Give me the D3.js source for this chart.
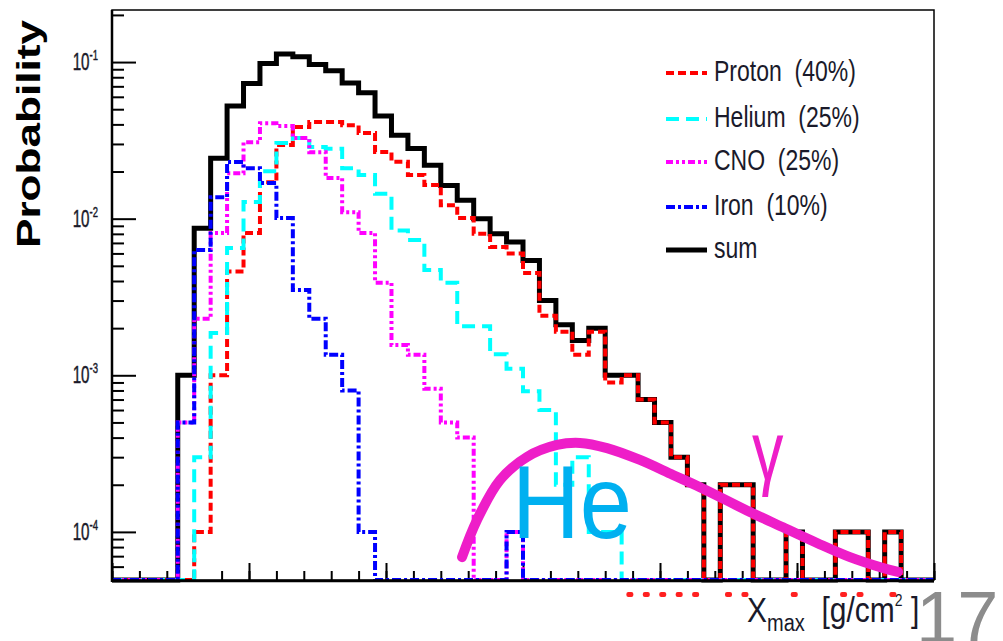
<!DOCTYPE html>
<html>
<head>
<meta charset="utf-8">
<script src="https://cdn.jsdelivr.net/npm/d3@7"></script>
<style>
  body { margin: 0; background: #fff; }
  svg { display: block; }
  text { font-family: "Liberation Sans", Arial, sans-serif; white-space: pre; }
</style>
</head>
<body>
<svg id="chart" width="1003" height="641"></svg>
<script>
// Xmax histogram binning (g/cm^2)
const xRange = [400, 1000];
const binWidth = 12;

// Probability per bin for each primary species (50 bins)
const proton = [0, 0, 0, 0, 0, 1e-4, 1.0e-3, 4.6e-3, 8.1e-3, 1.71e-2,
  2.95e-2, 3.85e-2, 4.14e-2, 4.14e-2, 3.95e-2, 3.52e-2, 2.67e-2, 2.31e-2, 1.9e-2, 1.64e-2,
  1.22e-2, 1.01e-2, 8.0e-3, 6.6e-3, 6.0e-3, 4.5e-3, 2.4e-3, 1.9e-3, 1.35e-3, 1.9e-3,
  9e-4, 1.0e-3, 7e-4, 5e-4, 3e-4, 2e-4, 0, 2e-4, 2e-4, 0,
  0, 1e-4, 0, 0, 1e-4, 1e-4, 0, 1e-4, 0, 0];
const helium = [0, 0, 0, 0, 0, 3e-4, 1.86e-3, 6.5e-3, 1.28e-2, 2.01e-2,
  3.04e-2, 3.27e-2, 2.87e-2, 2.8e-2, 2.1e-2, 1.9e-2, 1.44e-2, 8.4e-3, 7.3e-3, 4.7e-3,
  3.9e-3, 2.06e-3, 2.06e-3, 1.36e-3, 1.1e-3, 7.9e-4, 6e-4, 2e-4, 3e-4, 1e-4,
  1e-4, 0, 0, 0, 0, 0, 0, 0, 0, 0,
  0, 0, 0, 0, 0, 0, 0, 0, 0, 0];
const cno = [0, 0, 0, 0, 5e-4, 2.3e-3, 8.1e-3, 1.95e-2, 3.08e-2, 4.07e-2,
  3.9e-2, 3.27e-2, 2.66e-2, 1.82e-2, 1.1e-2, 8.1e-3, 3.9e-3, 1.56e-3, 1.35e-3, 8.2e-4,
  5e-4, 4e-4, 0, 0, 1e-4, 0, 0, 0, 0, 0,
  0, 0, 0, 0, 0, 0, 0, 0, 0, 0,
  0, 0, 0, 0, 0, 0, 0, 0, 0, 0];
const iron = [0, 0, 0, 0, 5e-4, 6.3e-3, 1.37e-2, 2.3e-2, 2.1e-2, 1.69e-2,
  1.01e-2, 3.5e-3, 2.3e-3, 1.35e-3, 8e-4, 1e-4, 0, 0, 0, 0,
  0, 0, 0, 0, 1e-4, 0, 0, 0, 0, 0,
  0, 0, 0, 0, 0, 0, 0, 0, 0, 0,
  0, 0, 0, 0, 0, 0, 0, 0, 0, 0];
const sum = [0, 0, 0, 0, 1.0e-3, 8.7e-3, 2.43e-2, 5.25e-2, 7.3e-2, 9.8e-2,
  0.1125, 0.108, 9.66e-2, 8.8e-2, 7.34e-2, 6.37e-2, 4.52e-2, 3.41e-2, 2.81e-2, 2.19e-2,
  1.63e-2, 1.31e-2, 1.0e-2, 8.0e-3, 7.1e-3, 5.4e-3, 3.0e-3, 2.1e-3, 1.67e-3, 2.0e-3,
  1.0e-3, 1.0e-3, 7e-4, 5e-4, 3e-4, 2e-4, 0, 2e-4, 2e-4, 0,
  0, 1e-4, 0, 0, 1e-4, 1e-4, 0, 1e-4, 0, 0];

// Legend entries
const legendLabels = ["Proton  (40%)", "Helium  (25%)", "CNO  (25%)", "Iron  (10%)", "sum"];

// Y tick labels (decades)
const yMajorTicks = [1e-4, 1e-3, 1e-2, 1e-1];
const yTickExponents = ["-4", "-3", "-2", "-1"];

// Bins whose proton entries carry a marker under the axis
const markerBins = [31, 32, 33, 34, 35, 37, 38, 41, 44, 45, 47];

// Hand-drawn photon (gamma) expectation curve: [Xmax, probability]
const gammaCurve = [[655.5, 6.9e-5], [666.4, 1.19e-4], [683.2, 2.14e-4], [702.9, 3.01e-4],
  [724.8, 3.59e-4], [741.6, 3.70e-4], [761.3, 3.43e-4], [785.4, 2.88e-4], [809.5, 2.31e-4],
  [829.2, 1.93e-4], [865.7, 1.34e-4], [889.8, 1.07e-4], [914.6, 8.5e-5], [938.7, 6.9e-5],
  [962.8, 5.88e-5], [973.7, 5.55e-5]];

const svg = d3.select("#chart");
const frameL = 112, frameR = 934, frameT = 10, frameB = 580;
const yMin = 4.93e-5, yMax = 0.215;

const x = d3.scaleLinear().domain(xRange).range([frameL, frameR]);
const y = d3.scaleLog().domain([yMin, yMax]).range([frameB, frameT]);

const nBins = sum.length;
const edge = i => xRange[0] + i * binWidth;
const yv = v => y(Math.max(v, yMin));

function histPath(vals) {
  let p = `M${x(edge(0))},${yv(vals[0])}`;
  for (let i = 0; i < nBins; i++) {
    p += `H${x(edge(i + 1))}`;
    if (i < nBins - 1) p += `V${yv(vals[i + 1])}`;
  }
  return p;
}

const series = [
  { vals: sum,    color: "#000000", width: 5, dash: null },
  { vals: proton, color: "#ff0000", width: 4, dash: "8 4" },
  { vals: helium, color: "#00ffff", width: 4, dash: "13 7" },
  { vals: cno,    color: "#ff00ff", width: 4, dash: "7 3 3 3 3 3" },
  { vals: iron,   color: "#0000ff", width: 4, dash: "9 3 3 3" }
];

// Axis ticks (drawn inside the frame, no labels on x)
const gx = svg.append("g").attr("transform", `translate(0,${frameB})`);
gx.call(d3.axisBottom(x).tickValues(d3.range(400, 1001, 20)).tickSize(-9).tickFormat(""));
gx.call(g => g.select(".domain").remove());
const gx2 = svg.append("g").attr("transform", `translate(0,${frameB})`);
gx2.call(d3.axisBottom(x).tickValues(d3.range(400, 1001, 100)).tickSize(-17).tickFormat(""));
gx2.call(g => g.select(".domain").remove());

const minorY = [];
[1e-5, 1e-4, 1e-3, 1e-2, 1e-1].forEach(d => {
  for (let k = 2; k <= 9; k++) { const v = d * k; if (v >= yMin && v <= yMax) minorY.push(v); }
});
const gy = svg.append("g").attr("transform", `translate(${frameL},0)`);
gy.call(d3.axisLeft(y).tickValues(minorY).tickSize(-12).tickFormat(""));
gy.call(g => g.select(".domain").remove());
const gy2 = svg.append("g").attr("transform", `translate(${frameL},0)`);
gy2.call(d3.axisLeft(y).tickValues(yMajorTicks).tickSize(-24).tickFormat(""));
gy2.call(g => g.select(".domain").remove());
svg.selectAll(".tick line").attr("stroke", "#000").attr("stroke-width", 2);

// Histograms
svg.append("g").selectAll("path").data(series).join("path")
  .attr("d", d => histPath(d.vals))
  .attr("fill", "none")
  .attr("stroke", d => d.color)
  .attr("stroke-width", d => d.width)
  .attr("stroke-dasharray", d => d.dash);

// Frame
svg.append("rect").attr("x", frameL).attr("y", frameT)
  .attr("width", frameR - frameL).attr("height", frameB - frameT)
  .attr("fill", "none").attr("stroke", "#000").attr("stroke-width", 1.5);
svg.append("line").attr("x1", frameL).attr("x2", frameL).attr("y1", frameT).attr("y2", frameB + 2)
  .attr("stroke", "#000").attr("stroke-width", 2.5);
svg.append("line").attr("x1", frameL).attr("x2", frameR).attr("y1", frameB + 1).attr("y2", frameB + 1)
  .attr("stroke", "#000").attr("stroke-width", 2.5);

// Y tick labels
const ylab = svg.append("g");
yMajorTicks.forEach((v, i) => {
  const t = ylab.append("text")
    .attr("transform", `translate(98,${y(v) + 8}) scale(0.95,1.45)`)
    .attr("text-anchor", "end").attr("font-size", 16).attr("fill", "#1a1a2a")
    .attr("stroke", "#1a1a2a").attr("stroke-width", 0.3);
  t.append("tspan").text("10");
  t.append("tspan").attr("font-size", 10).attr("dy", -7).text(yTickExponents[i]);
});

// Y title
svg.append("text")
  .attr("transform", `translate(40,134) rotate(-90)`)
  .attr("text-anchor", "middle").attr("font-size", 34).attr("font-weight", "bold")
  .attr("textLength", 228).attr("lengthAdjust", "spacingAndGlyphs")
  .text("Probability");

// X title
const xt = svg.append("text").attr("transform", "translate(747,622) scale(1,1.15)")
  .attr("font-size", 30).attr("fill", "#1a1a2a");
xt.append("tspan").text("X");
xt.append("tspan").attr("font-size", 20).attr("dy", 8).text("max");
xt.append("tspan").attr("dy", -8).text("  [g/cm");
xt.append("tspan").attr("font-size", 14).attr("dy", -14).text("2");
xt.append("tspan").attr("dy", 14).text(" ]");

// Legend
const legY = [73, 119, 162, 207, 250];
const leg = svg.append("g");
series.slice(1).concat(series.slice(0, 1)).forEach((s, i) => {
  leg.append("line").attr("x1", 666).attr("x2", 707).attr("y1", legY[i]).attr("y2", legY[i])
    .attr("stroke", s.color).attr("stroke-width", s.width).attr("stroke-dasharray", s.dash);
  leg.append("text")
    .attr("transform", `translate(714,${legY[i] + 8}) scale(1,1.25)`)
    .attr("font-size", 23).attr("fill", "#1a1a2a").text(legendLabels[i]);
});

// Markers under the axis
svg.append("g").selectAll("rect").data(markerBins).join("rect")
  .attr("x", d => x(edge(d) + binWidth / 2) - 3.5).attr("y", 592)
  .attr("width", 7).attr("height", 5).attr("rx", 2).attr("fill", "#ff2020");

// Gamma curve annotation
svg.append("path")
  .attr("d", d3.line().x(d => x(d[0])).y(d => y(d[1])).curve(d3.curveCatmullRom)(gammaCurve))
  .attr("fill", "none").attr("stroke", "#ee1ec8").attr("stroke-width", 10)
  .attr("stroke-linecap", "round");

svg.append("text").attr("x", 512).attr("y", 538)
  .attr("font-family", "Noto Sans").attr("font-size", 104).attr("fill", "#00b0f0")
  .attr("textLength", 120).attr("lengthAdjust", "spacingAndGlyphs").text("He");

svg.append("text").attr("transform", "translate(752,480) scale(0.75,1)")
  .attr("font-family", "Noto Sans").attr("font-size", 84).attr("fill", "#ee1ec8").text("γ");

// Slide number
svg.append("text").attr("x", 916).attr("y", 643)
  .attr("font-family", "Open Sans").attr("font-weight", 300)
  .attr("font-size", 74).attr("fill", "#8c8c8c").text("17");
</script>
</body>
</html>
